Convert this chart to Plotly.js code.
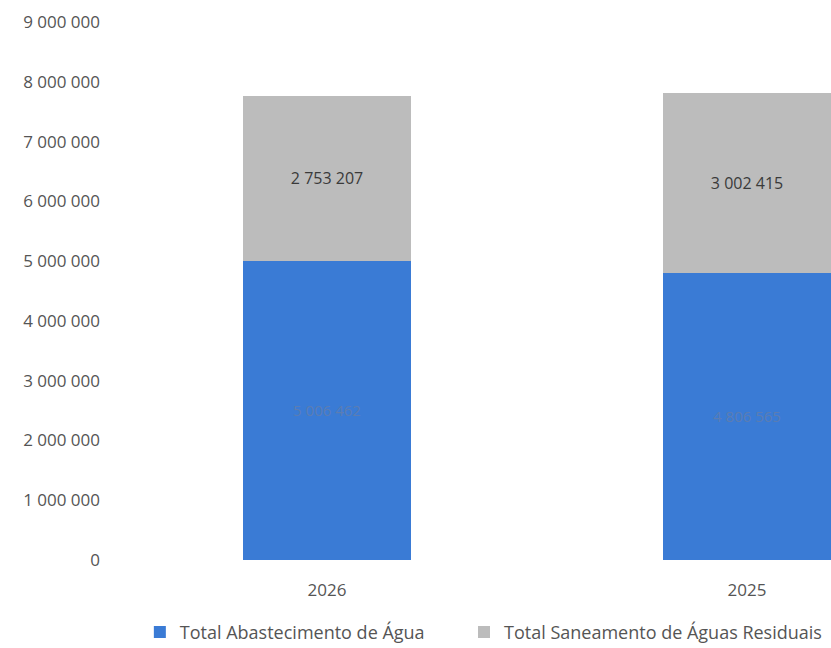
<!DOCTYPE html>
<html>
<head>
<meta charset="utf-8">
<script src="https://cdn.plot.ly/plotly-3.0.1.min.js"></script>
<style>html,body{margin:0;padding:0;background:#fff;}#chart{width:831px;height:648px;}</style>
</head>
<body>
<div id="chart"></div>
<script>
const categories = ["2026", "2025"];
const abastecimento = [5006462, 4806565];
const saneamento = [2753207, 3002415];
const seriesNames = ["Total Abastecimento de Água", "Total Saneamento de Águas Residuais"];
const yTicks = [0, 1000000, 2000000, 3000000, 4000000, 5000000, 6000000, 7000000, 8000000, 9000000];

const fontFam = "Open Sans, Liberation Sans, sans-serif";

const traces = [
  {
    type: "bar",
    name: seriesNames[0],
    x: categories,
    y: abastecimento,
    width: 0.4,
    marker: {color: "#3a7bd5"},
    texttemplate: "%{y:,.0f}",
    textposition: "inside",
    insidetextanchor: "middle",
    textfont: {family: fontFam, size: 15, color: "#5b7db3"},
    hoverinfo: "skip",
    legend: "legend"
  },
  {
    type: "bar",
    name: seriesNames[1],
    x: categories,
    y: saneamento,
    width: 0.4,
    marker: {color: "#bcbcbc"},
    texttemplate: "%{y:,.0f}",
    textposition: "inside",
    insidetextanchor: "middle",
    textfont: {family: fontFam, size: 16, color: "#3a3a3a"},
    hoverinfo: "skip",
    legend: "legend2"
  }
];

const legendCommon = {
  orientation: "h",
  traceorder: "normal",
  xanchor: "left",
  y: -0.1,
  yanchor: "top",
  font: {family: fontFam, size: 18, color: "#555555"},
  itemwidth: 30,
  bgcolor: "rgba(0,0,0,0)"
};

const layout = {
  width: 831,
  height: 648,
  separators: ", ",
  barmode: "stack",
  paper_bgcolor: "#ffffff",
  plot_bgcolor: "#ffffff",
  margin: {l: 117, r: 0, t: 22, b: 88, autoexpand: false},
  font: {family: fontFam, color: "#555555", size: 17},
  showlegend: true,
  xaxis: {
    type: "category",
    range: [-0.5, 1.2],
    showgrid: false,
    zeroline: false,
    showline: false,
    ticks: "",
    ticklabelstandoff: 18,
    tickfont: {family: fontFam, size: 17, color: "#555555"},
    fixedrange: true
  },
  yaxis: {
    range: [0, 9000000],
    tickvals: yTicks,
    tickformat: ",.0f",
    showgrid: false,
    zeroline: false,
    showline: false,
    ticks: "",
    ticklabelstandoff: 16,
    tickfont: {family: fontFam, size: 17, color: "#555555"},
    fixedrange: true
  },
  legend: Object.assign({}, legendCommon, {x: 0.032}),
  legend2: Object.assign({}, legendCommon, {x: 0.486})
};

Plotly.newPlot("chart", traces, layout, {staticPlot: true, displayModeBar: false});
</script>
</body>
</html>
